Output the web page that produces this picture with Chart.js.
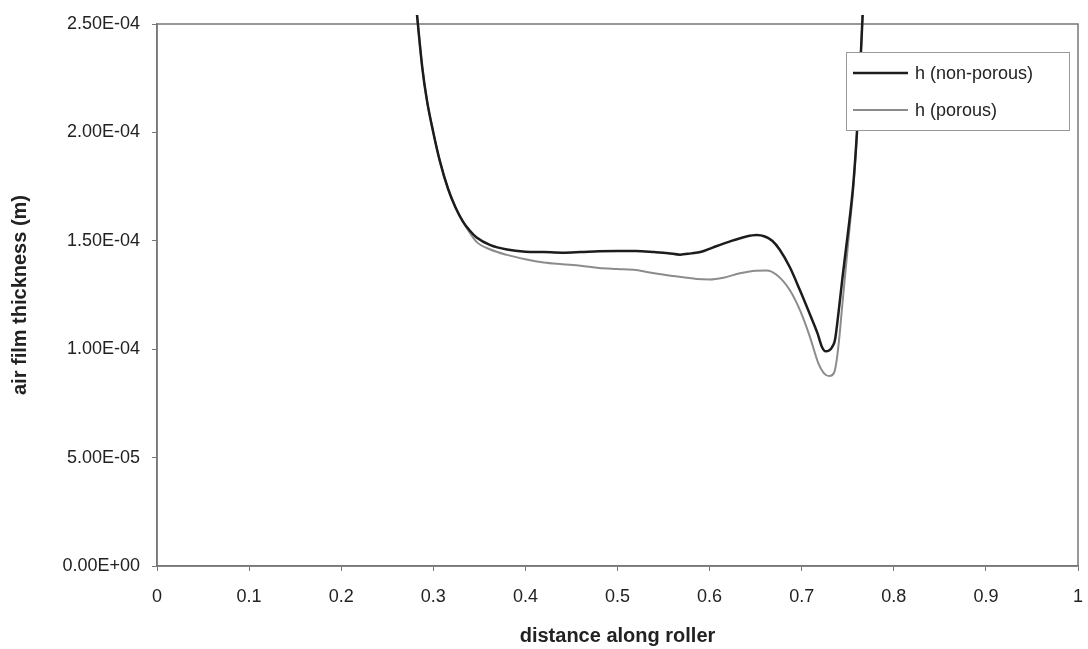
<!DOCTYPE html>
<html>
<head>
<meta charset="utf-8">
<script src="https://cdn.jsdelivr.net/npm/chart.js@4"></script>
<style>
    html, body { margin: 0; padding: 0; background: #fff; }
    #wrap { width: 1088px; height: 649px; }
</style>
</head>
<body>
<div id="wrap"><canvas id="filmChart"></canvas></div>
<script>
// values (h in metres)
const seriesLabels = ['h (non-porous)', 'h (porous)'];

const xNonPorous = [0.281, 0.288, 0.293, 0.300, 0.307, 0.316, 0.324, 0.332, 0.340, 0.347, 0.362, 0.380,
    0.400, 0.420, 0.440, 0.460, 0.480, 0.500, 0.520, 0.540, 0.555, 0.568, 0.580, 0.590, 0.604, 0.620,
    0.640, 0.651, 0.660, 0.668, 0.676, 0.687, 0.698, 0.709, 0.717, 0.722, 0.726, 0.730, 0.733, 0.736,
    0.740, 0.744, 0.748, 0.752, 0.756, 0.760, 0.763, 0.767];
const hNonPorous = [2.60e-4, 2.30e-4, 2.15e-4, 2.00e-4, 1.87e-4, 1.74e-4, 1.655e-4, 1.59e-4, 1.545e-4, 1.515e-4, 1.48e-4, 1.46e-4,
    1.45e-4, 1.448e-4, 1.445e-4, 1.448e-4, 1.452e-4, 1.453e-4, 1.453e-4, 1.448e-4, 1.443e-4, 1.436e-4, 1.442e-4, 1.448e-4, 1.47e-4, 1.494e-4,
    1.52e-4, 1.527e-4, 1.52e-4, 1.50e-4, 1.46e-4, 1.379e-4, 1.273e-4, 1.16e-4, 1.075e-4, 1.01e-4, 0.99e-4, 0.995e-4, 1.01e-4, 1.04e-4,
    1.17e-4, 1.32e-4, 1.46e-4, 1.60e-4, 1.76e-4, 2.00e-4, 2.25e-4, 2.62e-4];

const xPorous = [0.281, 0.288, 0.293, 0.300, 0.307, 0.316, 0.324, 0.334, 0.347, 0.362, 0.380, 0.400,
    0.420, 0.440, 0.460, 0.480, 0.500, 0.520, 0.540, 0.560, 0.586, 0.600, 0.615, 0.633, 0.650, 0.662,
    0.673, 0.687, 0.698, 0.709, 0.718, 0.724, 0.730, 0.735, 0.738, 0.741, 0.744, 0.748, 0.752, 0.756,
    0.760, 0.763, 0.767];
const hPorous = [2.60e-4, 2.30e-4, 2.15e-4, 2.00e-4, 1.87e-4, 1.74e-4, 1.655e-4, 1.575e-4, 1.495e-4, 1.46e-4, 1.435e-4, 1.415e-4,
    1.40e-4, 1.392e-4, 1.385e-4, 1.375e-4, 1.37e-4, 1.365e-4, 1.35e-4, 1.338e-4, 1.324e-4, 1.322e-4, 1.33e-4, 1.35e-4, 1.362e-4, 1.363e-4,
    1.342e-4, 1.273e-4, 1.181e-4, 1.056e-4, 0.936e-4, 0.89e-4, 0.876e-4, 0.89e-4, 0.95e-4, 1.06e-4, 1.20e-4, 1.38e-4, 1.56e-4, 1.74e-4,
    2.00e-4, 2.25e-4, 2.62e-4];

const xTitle = 'distance along roller';
const yTitle = 'air film thickness (m)';

const FONT = 'Liberation Sans, Arial, sans-serif';

function toPoints(xs, ys) {
    return xs.map((x, i) => ({ x: x, y: ys[i] }));
}

// Excel style 2.50E-04
function sciLabel(v) {
    if (Math.abs(v) < 1e-12) return '0.00E+00';
    const parts = v.toExponential(2).toUpperCase().split('E');
    const exp = parseInt(parts[1], 10);
    const sign = exp < 0 ? '-' : '+';
    return parts[0] + 'E' + sign + String(Math.abs(exp)).padStart(2, '0');
}

// box around the plot area
const frame = {
    id: 'frame',
    beforeDatasetsDraw(chart) {
        const a = chart.chartArea;
        const ctx = chart.ctx;
        ctx.save();
        ctx.strokeStyle = '#777';
        ctx.lineWidth = 1.5;
        ctx.strokeRect(a.left, a.top, a.right - a.left, a.bottom - a.top);
        ctx.restore();
    }
};

// legend box drawn over the lines, like the original
const boxLegend = {
    id: 'boxLegend',
    afterDatasetsDraw(chart) {
        const ctx = chart.ctx;
        const left = 846, top = 52, w = 223, h = 78;
        ctx.save();
        ctx.fillStyle = '#fff';
        ctx.fillRect(left, top, w, h);
        ctx.strokeStyle = '#999';
        ctx.lineWidth = 1;
        ctx.strokeRect(left + 0.5, top + 0.5, w, h);
        ctx.font = '18px ' + FONT;
        ctx.textBaseline = 'middle';
        chart.data.datasets.forEach((ds, i) => {
            const y = 73 + i * 37;
            ctx.strokeStyle = ds.borderColor;
            ctx.lineWidth = ds.borderWidth;
            ctx.beginPath();
            ctx.moveTo(853, y);
            ctx.lineTo(908, y);
            ctx.stroke();
            ctx.fillStyle = '#222';
            ctx.fillText(ds.label, 915, y + 1);
        });
        ctx.restore();
    }
};

const ctx = document.getElementById('filmChart').getContext('2d');
new Chart(ctx, {
    type: 'line',
    data: {
        datasets: [
            {
                label: seriesLabels[0],
                data: toPoints(xNonPorous, hNonPorous),
                borderColor: '#1c1c1c',
                borderWidth: 2.5
            },
            {
                label: seriesLabels[1],
                data: toPoints(xPorous, hPorous),
                borderColor: '#8c8c8c',
                borderWidth: 2
            }
        ].map(ds => ({
            ...ds,
            fill: false,
            pointRadius: 0,
            cubicInterpolationMode: 'monotone',
            clip: { left: 0, top: 9, right: 0, bottom: 0 }
        }))
    },
    options: {
        responsive: true,
        maintainAspectRatio: false,
        animation: false,
        layout: {
            padding: { left: 0, right: 10, top: 24, bottom: 0 }
        },
        plugins: {
            legend: { display: false },
            tooltip: { enabled: false }
        },
        scales: {
            x: {
                type: 'linear',
                min: 0,
                max: 1,
                afterFit: scale => {
                    scale.height = 83;
                    scale.paddingRight = 0;
                    scale.paddingLeft = 0;
                },
                grid: {
                    drawOnChartArea: false,
                    color: '#777',
                    tickLength: 5
                },
                border: { color: '#777', width: 1.5 },
                ticks: {
                    stepSize: 0.1,
                    padding: 15,
                    color: '#222',
                    font: { family: FONT, size: 18 },
                    maxRotation: 0,
                    callback: v => String(Number(v.toFixed(1)))
                },
                title: {
                    display: true,
                    text: xTitle,
                    color: '#222',
                    font: { family: FONT, size: 20, weight: 'bold' },
                    padding: { top: 0, bottom: 1 }
                }
            },
            y: {
                type: 'linear',
                min: 0,
                max: 2.5e-4,
                afterFit: scale => { scale.width = 157; },
                grid: {
                    drawOnChartArea: false,
                    color: '#777',
                    tickLength: 5
                },
                border: { color: '#777', width: 1.5 },
                ticks: {
                    stepSize: 5e-5,
                    padding: 12,
                    color: '#222',
                    font: { family: FONT, size: 18 },
                    callback: v => sciLabel(v)
                },
                title: {
                    display: true,
                    text: yTitle,
                    color: '#222',
                    font: { family: FONT, size: 20, weight: 'bold' },
                    padding: { top: 8, bottom: 0 }
                }
            }
        }
    },
    plugins: [frame, boxLegend]
});
</script>
</body>
</html>
